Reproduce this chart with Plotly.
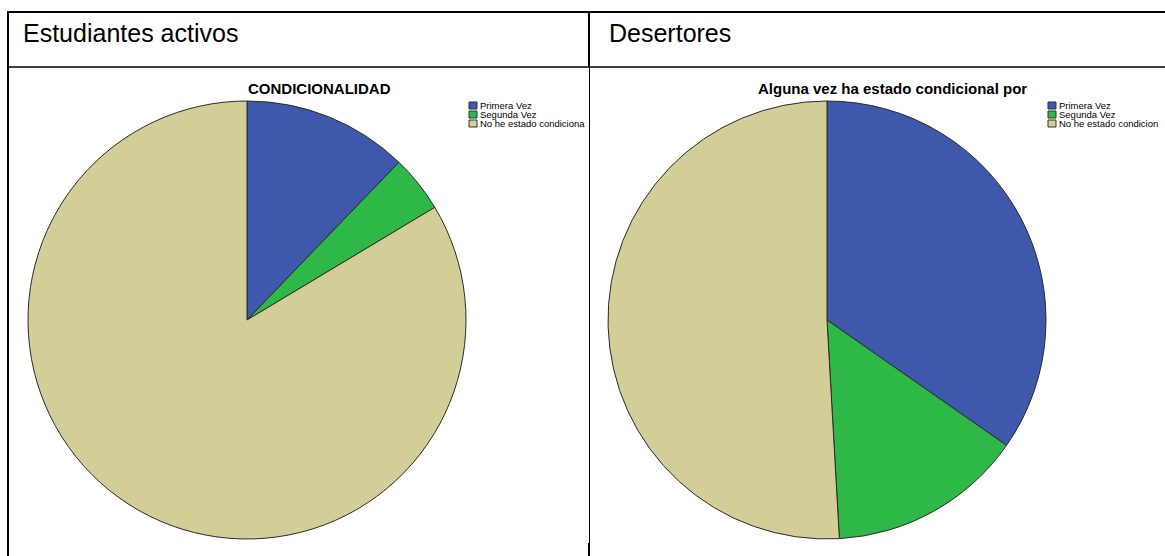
import plotly.graph_objects as go

W, H = 1165, 556

# data (percent)
labels = ["Primera Vez", "Segunda Vez", "No he estado condicional"]
activos = [12.2, 4.2, 83.6]
desertores = [34.7, 14.4, 50.9]
colors = ["#3E58AC", "#2EB848", "#D3CE97"]

headers = ["Estudiantes activos", "Desertores"]
titles = ["CONDICIONALIDAD", "Alguna vez ha estado condicional por"]
# legend text as it shows in each cell (cut off at the cell edge)
legend_left = ["Primera Vez", "Segunda Vez", "No he estado condiciona"]
legend_right = ["Primera Vez", "Segunda Vez", "No he estado condicion"]


def px(x):
    return x / W


def py(y):
    return 1 - y / H


fig = go.Figure()

# pies: centre and radius in pixels
for vals, cx, cy, r in [(activos, 247, 320, 219), (desertores, 827, 320, 219)]:
    fig.add_trace(go.Pie(
        labels=labels, values=vals, sort=False, direction="clockwise", rotation=0,
        marker=dict(colors=colors, line=dict(color="#2a2a2a", width=1)),
        textinfo="none", hoverinfo="label+percent", showlegend=False,
        domain=dict(x=[px(cx - r), px(cx + r)], y=[py(cy + r), py(cy - r)]),
    ))

shapes = []
annotations = []

# table grid
line = dict(color="black", width=2)
shapes.append(dict(type="line", xref="paper", yref="paper", x0=px(7), x1=1, y0=py(12), y1=py(12), line=line))
shapes.append(dict(type="line", xref="paper", yref="paper", x0=px(8), x1=px(8), y0=py(11), y1=0, line=line))
shapes.append(dict(type="line", xref="paper", yref="paper", x0=px(8), x1=1, y0=py(67), y1=py(67), line=dict(color="black", width=1.5)))
shapes.append(dict(type="line", xref="paper", yref="paper", x0=px(589), x1=px(589), y0=py(12), y1=py(67), line=line))
shapes.append(dict(type="line", xref="paper", yref="paper", x0=px(589.5), x1=px(589.5), y0=py(67), y1=py(543), line=dict(color="black", width=1)))
shapes.append(dict(type="line", xref="paper", yref="paper", x0=px(589), x1=px(589), y0=py(543), y1=0, line=line))

# header text
for txt, x in zip(headers, [21, 607]):
    annotations.append(dict(text=txt, x=px(x), y=py(33), xref="paper", yref="paper",
                            xanchor="left", yanchor="middle", showarrow=False,
                            font=dict(family="Liberation Sans, Arial", size=25, color="black")))

# chart titles
for txt, x in zip(titles, [319, 892]):
    annotations.append(dict(text="<b>%s</b>" % txt, x=px(x), y=py(88), xref="paper", yref="paper",
                            xanchor="center", yanchor="middle", showarrow=False,
                            font=dict(family="Liberation Sans, Arial", size=15, color="black")))

# legends
for items, lx in [(legend_left, 469), (legend_right, 1048)]:
    for i, (txt, c) in enumerate(zip(items, colors)):
        y0 = 102 + i * 9
        shapes.append(dict(type="rect", xref="paper", yref="paper",
                           x0=px(lx), x1=px(lx + 8), y0=py(y0 + 7), y1=py(y0),
                           fillcolor=c, line=dict(color="#333333", width=1)))
        annotations.append(dict(text=txt, x=px(lx + 9.5), y=py(y0 + 3.7), xref="paper", yref="paper",
                                xanchor="left", yanchor="middle", showarrow=False, borderpad=0,
                                font=dict(family="Liberation Sans, Arial", size=9.5, color="black")))

fig.update_layout(width=W, height=H, margin=dict(l=0, r=0, t=0, b=0),
                  paper_bgcolor="white", plot_bgcolor="white",
                  shapes=shapes, annotations=annotations)

# the page body has an 8px margin by default; drop it so the figure fills the window
fig.write_html("out.html", config={"displayModeBar": False},
               post_script="document.body.style.margin='0';document.body.style.overflow='hidden';")
